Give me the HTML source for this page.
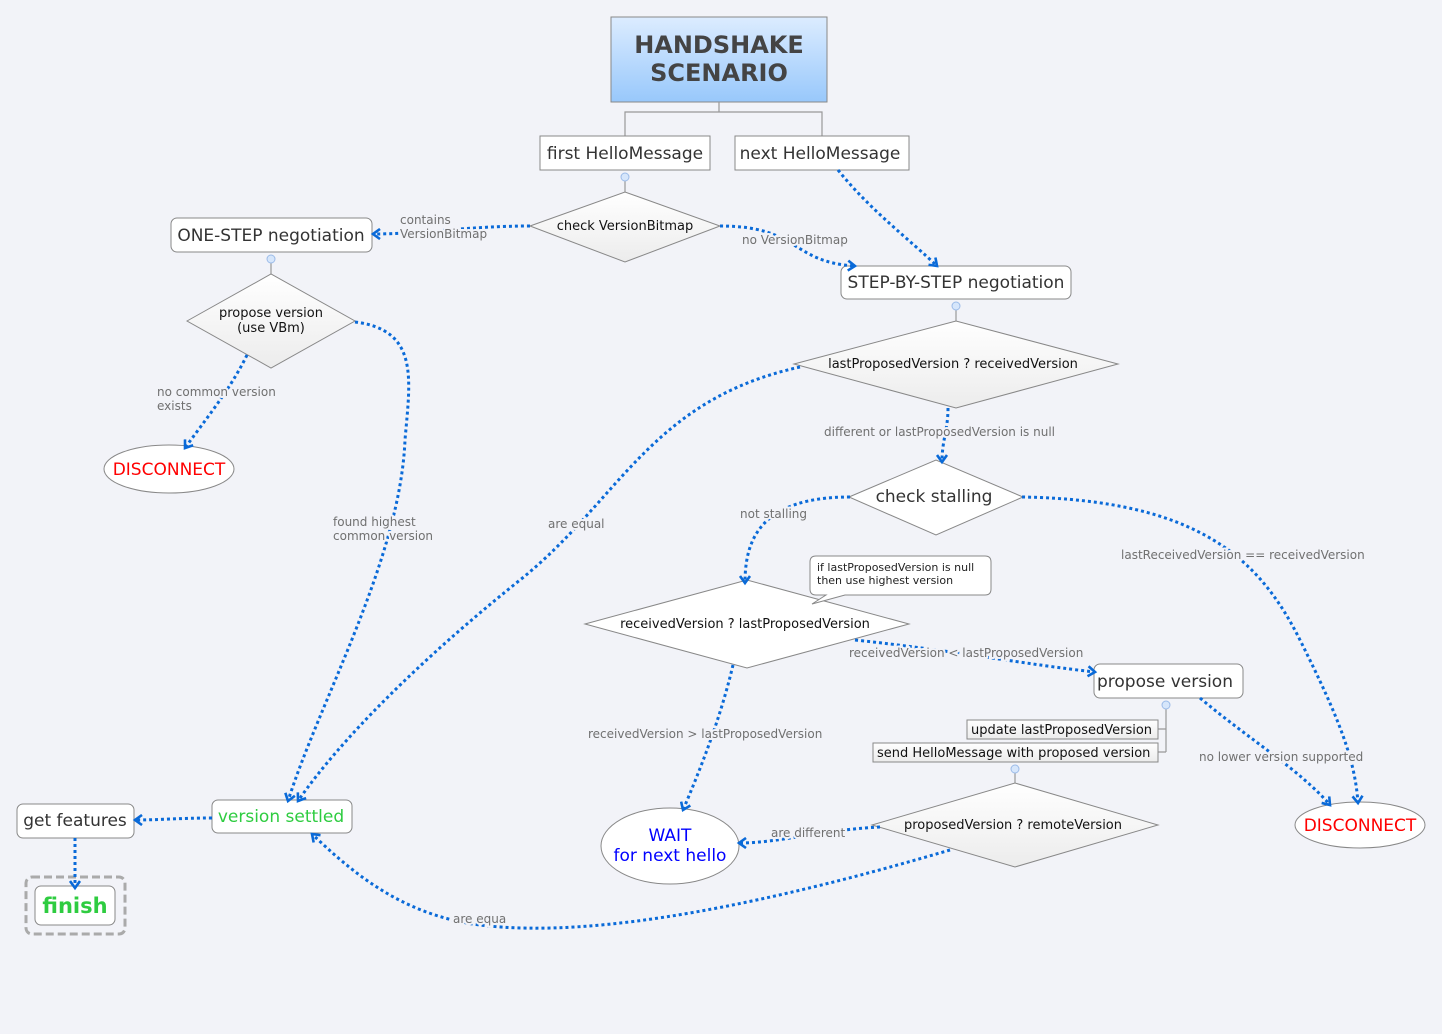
<!DOCTYPE html>
<html><head><meta charset="utf-8"><style>
html,body{margin:0;padding:0;background:#f2f3f8;}
svg{display:block;font-family:"DejaVu Sans","Liberation Sans",sans-serif;}
.c{fill:none;stroke:#0a6ad8;stroke-width:3;stroke-dasharray:3 3;}
.ah{fill:none;stroke:#0a6ad8;stroke-width:3;stroke-dasharray:none;}
.lb{font-size:12px;fill:#707070;paint-order:stroke;stroke:#f2f3f8;stroke-width:4px;stroke-linejoin:round;}
.box{fill:#fff;stroke:#888;stroke-width:1;}
.t17{font-size:17px;fill:#333;}
.t13{font-size:13px;fill:#111;}
.ln{stroke:#999;stroke-width:1.2;fill:none;}
.dot{fill:#d6e6fb;stroke:#9bbbe8;stroke-width:1;}
</style></head><body>
<svg width="1442" height="1034" viewBox="0 0 1442 1034" xmlns="http://www.w3.org/2000/svg">
<defs>
<linearGradient id="tg" x1="0" y1="0" x2="0" y2="1"><stop offset="0" stop-color="#dcecff"/><stop offset="1" stop-color="#98c8fb"/></linearGradient>
<linearGradient id="dg" x1="0" y1="0" x2="0" y2="1"><stop offset="0" stop-color="#ffffff"/><stop offset="1" stop-color="#ececec"/></linearGradient>
<marker id="a" markerWidth="12" markerHeight="12" refX="9" refY="6" orient="auto" markerUnits="userSpaceOnUse"><path d="M2,1 L9,6 L2,11" fill="none" stroke="#0a6ad8" stroke-width="2.6"/></marker>
</defs>

<!-- title -->
<rect x="611" y="17" width="216" height="85" fill="url(#tg)" stroke="#888"/>
<text x="719" y="53" text-anchor="middle" font-size="24" font-weight="bold" fill="#444">HANDSHAKE</text>
<text x="719" y="81" text-anchor="middle" font-size="24" font-weight="bold" fill="#444">SCENARIO</text>
<path class="ln" d="M719,102 V112 M625,136 V112 H822 V136"/>

<rect class="box" x="540" y="136" width="170" height="34"/>
<text class="t17" x="625" y="159" text-anchor="middle">first HelloMessage</text>
<rect class="box" x="735" y="136" width="174" height="34"/>
<text class="t17" x="820" y="159" text-anchor="middle">next HelloMessage</text>

<line class="ln" x1="625" y1="181" x2="625" y2="192"/>
<circle class="dot" cx="625" cy="177" r="4"/>
<polygon points="530,226 625,192 720,226 625,262" fill="url(#dg)" stroke="#888"/>
<text class="t13" x="625" y="230" text-anchor="middle">check VersionBitmap</text>

<!-- ONE-STEP -->
<rect class="box" x="171" y="218" width="201" height="34" rx="6"/>
<text class="t17" x="271" y="241" text-anchor="middle">ONE-STEP negotiation</text>
<line class="ln" x1="271" y1="263" x2="271" y2="274"/>
<circle class="dot" cx="271" cy="259" r="4"/>
<polygon points="187,321 271,274 355,321 271,368" fill="url(#dg)" stroke="#888"/>
<text class="t13" x="271" y="317" text-anchor="middle">propose version</text>
<text class="t13" x="271" y="332" text-anchor="middle">(use VBm)</text>
<ellipse cx="169" cy="469" rx="65" ry="24" fill="#fff" stroke="#888"/>
<text x="169" y="475" text-anchor="middle" font-size="17" fill="#f00">DISCONNECT</text>

<!-- STEP-BY-STEP -->
<rect class="box" x="841" y="266" width="230" height="33" rx="6"/>
<text class="t17" x="956" y="288" text-anchor="middle">STEP-BY-STEP negotiation</text>
<line class="ln" x1="956" y1="310" x2="956" y2="321"/>
<circle class="dot" cx="956" cy="306" r="4"/>
<polygon points="794,364 956,321 1118,364 956,408" fill="url(#dg)" stroke="#888"/>
<text class="t13" x="953" y="368" text-anchor="middle">lastProposedVersion ? receivedVersion</text>

<polygon points="849,497 936,460 1023,497 936,535" fill="#fff" stroke="#888"/>
<text class="t17" x="934" y="502" text-anchor="middle">check stalling</text>

<polygon points="585,624 747,580 909,624 747,668" fill="#fff" stroke="#888"/>
<text class="t13" x="745" y="628" text-anchor="middle">receivedVersion ? lastProposedVersion</text>

<path d="M816,556 H985 Q991,556 991,562 V589 Q991,595 985,595 H845 L812,604 L826,595 H816 Q810,595 810,589 V562 Q810,556 816,556 Z" fill="#fff" stroke="#888"/>
<text x="817" y="571" font-size="11" fill="#222">if lastProposedVersion is null</text>
<text x="817" y="584" font-size="11" fill="#222">then use highest version</text>

<rect class="box" x="1094" y="664" width="149" height="34" rx="6"/>
<text class="t17" x="1165" y="687" text-anchor="middle">propose version</text>
<line class="ln" x1="1166" y1="709" x2="1166" y2="752"/>
<path class="ln" d="M1158,729 H1166 M1158,752 H1166"/>
<circle class="dot" cx="1166" cy="705" r="4"/>
<rect x="967" y="720" width="191" height="19" fill="url(#dg)" stroke="#888"/>
<text class="t13" x="971" y="734">update lastProposedVersion</text>
<rect x="873" y="743" width="285" height="19" fill="url(#dg)" stroke="#888"/>
<text class="t13" x="877" y="757">send HelloMessage with proposed version</text>
<line class="ln" x1="1015" y1="773" x2="1015" y2="783"/>
<circle class="dot" cx="1015" cy="769" r="4"/>
<polygon points="872,825 1015,783 1158,825 1015,867" fill="url(#dg)" stroke="#888"/>
<text class="t13" x="1013" y="829" text-anchor="middle">proposedVersion ? remoteVersion</text>

<ellipse cx="670" cy="846" rx="69" ry="38" fill="#fff" stroke="#888"/>
<text x="670" y="841" text-anchor="middle" font-size="17" fill="#00f">WAIT</text>
<text x="670" y="861" text-anchor="middle" font-size="17" fill="#00f">for next hello</text>

<ellipse cx="1360" cy="825" rx="65" ry="23" fill="#fff" stroke="#888"/>
<text x="1360" y="831" text-anchor="middle" font-size="17" fill="#f00">DISCONNECT</text>

<rect class="box" x="212" y="800" width="140" height="33" rx="6"/>
<text x="281" y="822" text-anchor="middle" font-size="17" fill="#2ecc40">version settled</text>
<rect class="box" x="17" y="804" width="117" height="34" rx="6"/>
<text class="t17" x="75" y="826" text-anchor="middle">get features</text>
<rect x="26" y="877" width="99" height="57" rx="6" fill="none" stroke="#aaa" stroke-width="3" stroke-dasharray="8 4"/>
<rect class="box" x="35" y="886" width="80" height="39" rx="6"/>
<text x="75" y="913" text-anchor="middle" font-size="21" font-weight="bold" fill="#2ecc40">finish</text>

<!-- connectors -->
<path class="c" marker-end="url(#a)" d="M530,226 C470,226 420,234 373,234"/>
<path class="c" marker-end="url(#a)" d="M720,226 C800,226 790,262 855,266"/>
<path class="c" marker-end="url(#a)" d="M838,170 C870,210 910,240 937,266"/>
<path class="c" marker-end="url(#a)" d="M355,322 C420,330 410,380 405,440 C400,560 320,700 288,801"/>
<path class="c" marker-end="url(#a)" d="M247,355 C230,390 205,420 185,448"/>
<path class="c" marker-end="url(#a)" d="M800,367 C650,400 620,500 520,580 C420,660 340,740 298,801"/>
<path class="c" marker-end="url(#a)" d="M948,408 C948,430 942,440 942,462"/>
<path class="c" marker-end="url(#a)" d="M850,497 C760,497 745,540 745,583"/>
<path class="c" marker-end="url(#a)" d="M1022,497 C1200,500 1260,560 1300,640 C1340,720 1355,760 1358,803"/>
<path class="c" marker-end="url(#a)" d="M855,640 C950,650 1030,665 1095,672"/>
<path class="c" marker-end="url(#a)" d="M733,665 C720,720 700,770 683,810"/>
<path class="c" marker-end="url(#a)" d="M1200,698 C1250,740 1300,770 1330,805"/>
<path class="c" marker-end="url(#a)" d="M880,827 C820,830 780,843 739,843"/>
<path class="c" marker-end="url(#a)" d="M950,850 C780,900 600,940 480,925 C400,915 350,870 312,834"/>
<path class="c" marker-end="url(#a)" d="M212,818 C180,818 160,820 135,820"/>
<path class="c" marker-end="url(#a)" d="M75,838 V888"/>

<!-- labels -->
<text class="lb" x="400" y="224">contains</text>
<text class="lb" x="400" y="238">VersionBitmap</text>
<text class="lb" x="742" y="244">no VersionBitmap</text>
<text class="lb" x="157" y="396">no common version</text>
<text class="lb" x="157" y="410">exists</text>
<text class="lb" x="333" y="526">found highest</text>
<text class="lb" x="333" y="540">common version</text>
<text class="lb" x="548" y="528">are equal</text>
<text class="lb" x="824" y="436">different or lastProposedVersion is null</text>
<text class="lb" x="740" y="518">not stalling</text>
<text class="lb" x="1121" y="559">lastReceivedVersion == receivedVersion</text>
<text class="lb" x="849" y="657">receivedVersion &lt; lastProposedVersion</text>
<text class="lb" x="588" y="738">receivedVersion &gt; lastProposedVersion</text>
<text class="lb" x="1199" y="761">no lower version supported</text>
<text class="lb" x="771" y="837">are different</text>
<text class="lb" x="453" y="923">are equa</text>
</svg>
</body></html>
